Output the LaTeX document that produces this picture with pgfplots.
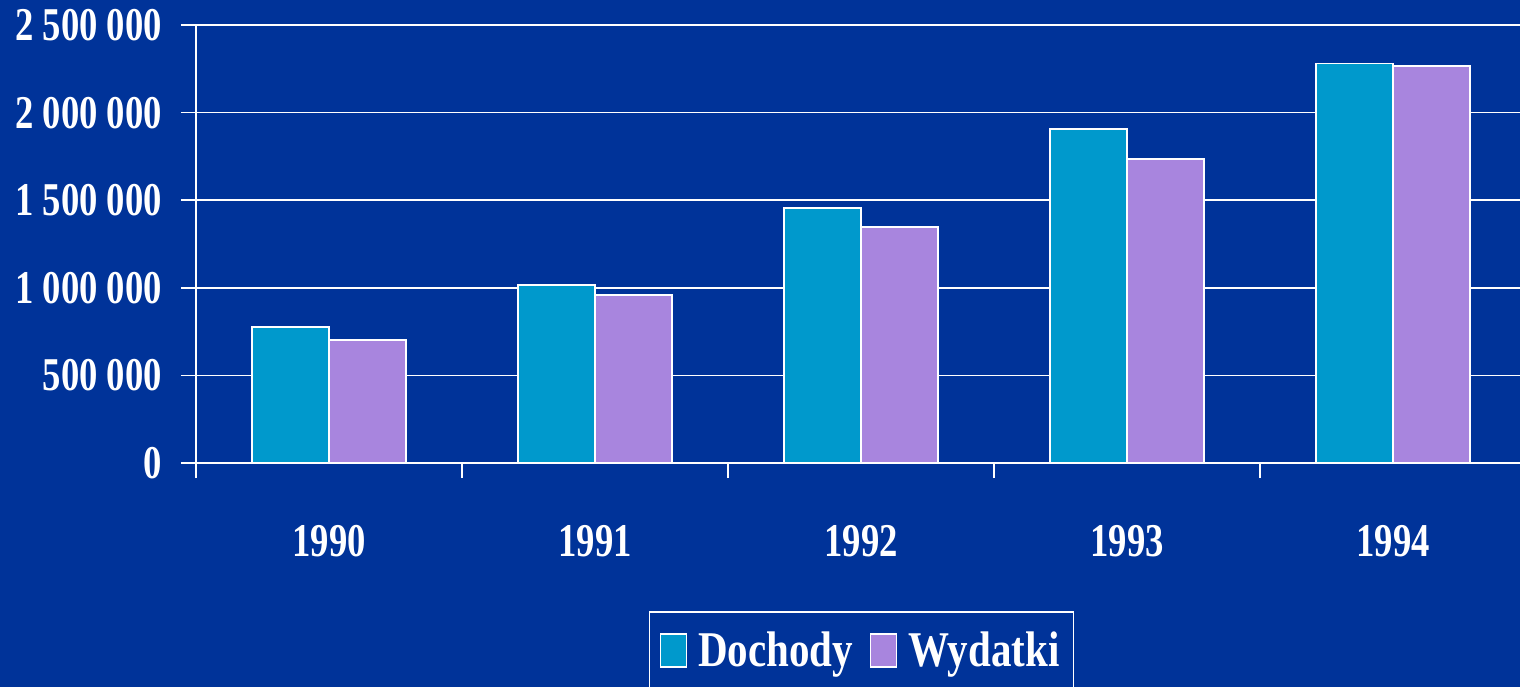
\documentclass[border=0pt]{standalone}
\usepackage{pgfplots}
\pgfplotsset{compat=1.18}
\usepackage{fontspec}
\setmainfont{Liberation Serif}[FakeStretch=0.78]
\newfontfamily\legfont{Liberation Serif}[FakeStretch=0.82]
\definecolor{bg}{RGB}{0,51,153}
\definecolor{doch}{RGB}{0,153,204}
\definecolor{wyd}{RGB}{168,133,222}
\begin{document}
\begin{tikzpicture}
\useasboundingbox (0,0) rectangle (760pt,343.5pt);
\clip (0,0) rectangle (760pt,343.5pt);
\fill[bg] (0,0) rectangle (760pt,343.5pt);
\begin{axis}[
  at={(98pt,112pt)}, anchor=south west,
  scale only axis, width=662pt, height=219pt,
  xmin=-0.5, xmax=4.477, ymin=0, ymax=2500000,
  ybar=0pt, bar width=38.5pt,
  axis x line*=bottom, axis y line*=left,
  axis line style={white, line width=0.75pt, -},
  ytick={0,500000,1000000,1500000,2000000,2500000},
  yticklabels={0,500 000,1 000 000,1 500 000,2 000 000,2 500 000},
  scaled y ticks=false,
  ymajorgrids, grid style={white, line width=0.75pt},
  xtick={-0.5,0.5,1.5,2.5,3.5},
  xticklabels={},
  extra x ticks={0,1,2,3,4},
  extra x tick labels={1990,1991,1992,1993,1994},
  extra x tick style={tick style={draw=none}, grid=none},
  tick align=outside,
  major tick length=7.5pt,
  tick style={white, line width=0.75pt},
  ticklabel style={text=white, font=\bfseries\fontsize{23.5}{24}\selectfont},
  xticklabel style={yshift=-20pt},
  yticklabel style={xshift=-6pt},
  legend columns=2,
  legend style={at={(0.342,-0.338)}, anchor=north west, draw=white, line width=0.75pt,
    fill=none, text=white, font=\legfont\bfseries\fontsize{25}{26}\selectfont,
    inner xsep=5pt, inner ysep=8pt,
    /tikz/every odd column/.append style={column sep=3.5pt},
    /tikz/every even column/.append style={column sep=6.5pt}},
]
\addplot[fill=doch, draw=white, line width=0.75pt,
  legend image code/.code={\draw[fill=doch, draw=white, line width=0.75pt] (0pt,-8.25pt) rectangle (13pt,8.25pt);}]
  coordinates {(0,776000) (1,1016000) (2,1455000) (3,1906000) (4,2280000)};
\addplot[fill=wyd, draw=white, line width=0.75pt,
  legend image code/.code={\draw[fill=wyd, draw=white, line width=0.75pt] (0pt,-8.25pt) rectangle (13pt,8.25pt);}]
  coordinates {(0,702000) (1,959000) (2,1347000) (3,1735000) (4,2266000)};
\legend{Dochody,Wydatki}
\end{axis}
\end{tikzpicture}
\end{document}
